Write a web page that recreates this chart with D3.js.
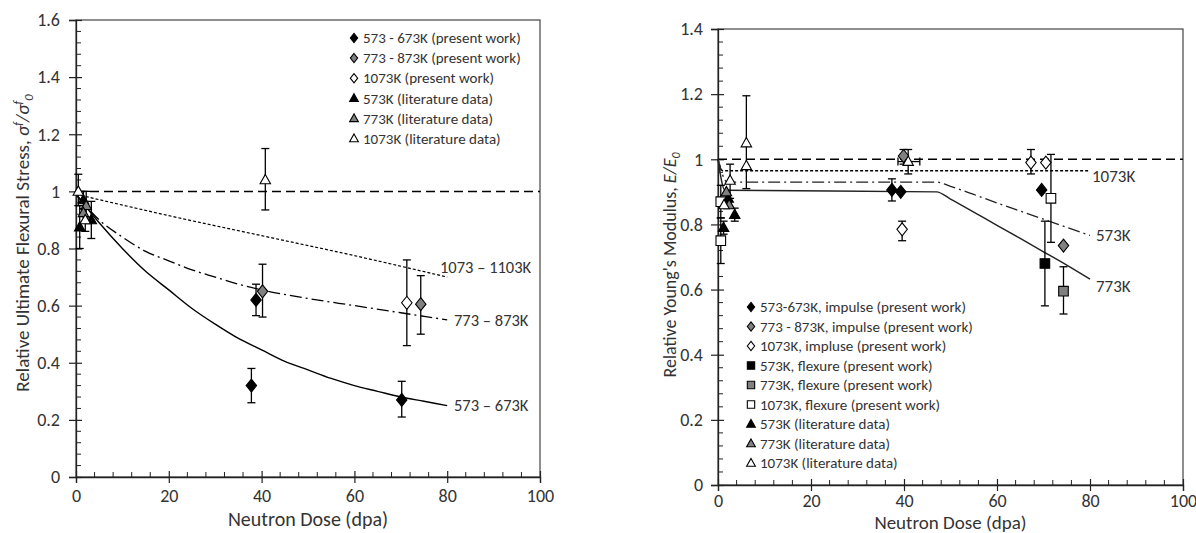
<!DOCTYPE html>
<html><head><meta charset="utf-8">
<script src="https://cdn.jsdelivr.net/npm/d3@7/dist/d3.min.js"></script>
<style>
body{margin:0;background:#fff;}
svg{display:block;font-family:Carlito,Lato,"Open Sans",sans-serif;}
</style></head><body>
<svg id="c" width="1196" height="533"></svg>
<script>
// ---------- tick values ----------
const xTicks = [0, 20, 40, 60, 80, 100];
const leftYTicks = [0, 0.2, 0.4, 0.6, 0.8, 1, 1.2, 1.4, 1.6];
const rightYTicks = [0, 0.2, 0.4, 0.6, 0.8, 1, 1.2, 1.4];

// ---------- LEFT PANEL: relative flexural stress ----------
// points: [dose, value, errLow, errHigh]
const L_pw573  = [[37.8,0.32,0.26,0.38],[38.8,0.62,0.565,0.675],[70.2,0.27,0.21,0.335]];
const L_pw773  = [[40.2,0.65,0.56,0.745],[74.3,0.605,0.50,0.705]];
const L_pw1073 = [[71.3,0.61,0.46,0.76]];
const L_lit573 = [[0.8,0.875,0.80,0.95],[3.3,0.90,0.835,0.965],[1.6,0.97,0.94,1.0]];
const L_lit773 = [[2.2,0.95,0.91,1.0],[1.6,0.925,null,null]];
const L_lit1073= [[0.5,1.0,0.95,1.06],[2.0,0.90,0.86,0.94],[40.8,1.04,0.935,1.15]];
// fitted trend curves
const L_ref    = [[0,1],[100,1]];
const L_c1073  = [[0,0.99],[20,0.915],[40,0.845],[60,0.775],[80,0.70]];
const L_c773   = [[0,0.99],[5,0.90],[10,0.84],[15,0.79],[20,0.757],[25,0.725],[30,0.70],[35,0.675],[40,0.655],[50,0.625],[60,0.60],[70,0.575],[80,0.55]];
const L_c573   = [[0,0.99],[5,0.89],[10,0.80],[15,0.72],[20,0.655],[25,0.59],[30,0.535],[35,0.485],[40,0.445],[45,0.405],[50,0.375],[55,0.345],[60,0.32],[65,0.30],[70,0.28],[75,0.265],[80,0.25]];
const L_curveLabels = ["1073 \u2013 1103K", "773 \u2013 873K", "573 \u2013 673K"];
const L_curveLabelY = [0.735, 0.55, 0.25];
const L_curveLabelX = [440, 454, 454];
const L_legend = ["573 - 673K (present work)","773 - 873K (present work)","1073K (present work)","573K (literature data)","773K (literature data)","1073K (literature data)"];

// ---------- RIGHT PANEL: relative Young's modulus ----------
const R_imp573  = [[37.4,0.906,0.872,0.94],[39.3,0.90,null,null],[69.6,0.906,null,null]];
const R_imp773  = [[39.9,1.01,0.985,1.03],[74.3,0.735,null,null]];
const R_imp1073 = [[39.6,0.785,0.75,0.81],[67.3,0.99,0.955,1.03],[70.5,0.99,null,null]];
const R_flex573 = [[70.3,0.68,0.55,0.81]];
const R_flex773 = [[74.3,0.595,0.525,0.67]];
const R_flex1073= [[71.6,0.88,0.745,1.015],[0.6,0.75,0.68,0.82],[0.6,0.87,0.82,0.92]];
const R_lit573  = [[1.2,0.79,0.77,0.81],[3.6,0.83,0.81,0.85],[2.2,0.88,null,null]];
const R_lit773  = [[2.4,0.86,null,null],[1.8,0.90,null,null]];
const R_lit1073 = [[6.1,1.05,0.91,1.195],[6.1,0.98,null,null],[2.6,0.935,0.88,0.985],[1.3,0.86,null,null],[40.9,0.993,0.955,1.03,38.7,43.4]];
const R_ref     = [[0,1],[100,1]];
const R_c1073   = [[0,1.0],[1,0.965],[80,0.965]];
const R_c573    = [[0,1.0],[2,0.93],[47,0.93],[50,0.917],[55,0.892],[60,0.866],[65,0.841],[70,0.816],[75,0.791],[80,0.766]];
const R_c773    = [[0,1.0],[1.5,0.905],[47,0.90],[50,0.878],[55,0.838],[60,0.797],[65,0.757],[70,0.716],[75,0.675],[80,0.632]];
const R_curveLabels = ["1073K", "573K", "773K"];
const R_curveLabelY = [0.949, 0.768, 0.611];
const R_curveLabelX = [1092, 1096, 1096];
const R_legend = ["573-673K, impulse (present work)","773 - 873K, impulse (present work)","1073K, impluse (present work)","573K, flexure (present work)","773K, flexure (present work)","1073K, flexure (present work)","573K (literature data)","773K (literature data)","1073K (literature data)"];

// ---------- drawing ----------
const svg = d3.select("#c");
const AX = "#222", TXT = "#333";
const FILL = {black:"#000", grey:"#808080", open:"#fff"};

function marker(g, shape, fill, x, y, s) {
  let path;
  if (shape === "diamond") path = `M${x},${y-s}L${x+s*0.8},${y}L${x},${y+s}L${x-s*0.8},${y}Z`;
  else if (shape === "triangle") path = `M${x},${y-s}L${x+s*0.95},${y+s*0.7}L${x-s*0.95},${y+s*0.7}Z`;
  else path = `M${x-s*0.8},${y-s*0.8}h${s*1.6}v${s*1.6}h${-s*1.6}Z`;
  g.append("path").attr("d", path).attr("fill", FILL[fill]).attr("stroke", "#000").attr("stroke-width", 1.1);
}

function panel(cfg) {
  const x = d3.scaleLinear().domain([0,100]).range(cfg.xr);
  const y = d3.scaleLinear().domain([0, cfg.ymax]).range(cfg.yr);
  const g = svg.append("g");
  const [x0, x1] = cfg.xr, [y0, y1] = cfg.yr;

  // frame
  g.append("rect").attr("x", x0).attr("y", y1).attr("width", x1-x0).attr("height", y0-y1)
    .attr("fill","none").attr("stroke","#444").attr("stroke-width",1.2);

  // minor ticks
  const yMinor = d3.range(0, cfg.ymax + 1e-9, 0.04).filter(v => Math.abs(v/0.2 - Math.round(v/0.2)) > 1e-6);
  g.selectAll(null).data(yMinor).join("line")
    .attr("x1", x0).attr("x2", x0+5).attr("y1", d=>y(d)).attr("y2", d=>y(d)).attr("stroke", AX).attr("stroke-width",1);
  const xMinor = d3.range(0, 100.01, 4).filter(v => v % 20 !== 0);
  g.selectAll(null).data(xMinor).join("line")
    .attr("x1", d=>x(d)).attr("x2", d=>x(d)).attr("y1", y0).attr("y2", y0-5).attr("stroke", AX).attr("stroke-width",1);

  // axes (major ticks crossing)
  const ya = g.append("g").attr("transform", `translate(${x0},0)`)
    .call(d3.axisLeft(y).tickValues(cfg.yTicks).tickSize(7).tickPadding(cfg.ypad).tickFormat(d3.format("~g")));
  ya.select(".domain").attr("stroke", AX).attr("stroke-width",1.3);
  ya.selectAll(".tick line").attr("x2", 6).attr("x1", -7).attr("stroke", AX).attr("stroke-width",1.2);
  ya.selectAll("text").attr("font-size", 18).attr("fill", TXT).attr("font-family", "Carlito,Lato,sans-serif");

  const xa = g.append("g").attr("transform", `translate(0,${y0})`)
    .call(d3.axisBottom(x).tickValues(xTicks).tickSize(6).tickPadding(cfg.xpad));
  xa.select(".domain").attr("stroke", AX).attr("stroke-width",1.3);
  xa.selectAll(".tick line").attr("y1", -6).attr("y2", 6).attr("stroke", AX).attr("stroke-width",1.2);
  xa.selectAll("text").attr("font-size", 18).attr("fill", TXT).attr("font-family", "Carlito,Lato,sans-serif");

  // titles
  g.append("text").attr("x", (x0+x1)/2).attr("y", cfg.xTitleY).attr("text-anchor","middle")
    .attr("font-size", cfg.xTitleFont).attr("fill", TXT).text("Neutron Dose (dpa)");
  const yt = g.append("text").attr("transform", `translate(${cfg.yTitleX},${cfg.yTitleCY}) rotate(-90)`)
    .attr("text-anchor","middle").attr("font-size", cfg.yTitleFont).attr("fill", TXT);
  cfg.yTitle(yt);

  // curves
  const line = d3.line().x(d=>x(d[0])).y(d=>y(d[1])).curve(d3.curveMonotoneX);
  cfg.curves.forEach(c => {
    g.append("path").attr("d", line(c.data)).attr("fill","none").attr("stroke", c.color || "#000")
      .attr("stroke-width", c.w).attr("stroke-dasharray", c.dash);
  });
  cfg.curveLabels.forEach((t,i) => {
    g.append("text").attr("x", cfg.labelX[i]).attr("y", y(cfg.curveLabelY[i])).attr("dy","0.35em")
      .attr("font-size", cfg.labelFont).attr("fill", TXT).text(t);
  });

  // series
  cfg.series.forEach(s => {
    s.data.forEach(d => {
      if (d[2] != null) {
        const cx = x(d[0]);
        g.append("line").attr("x1",cx).attr("x2",cx).attr("y1",y(d[2])).attr("y2",y(d[3])).attr("stroke","#000").attr("stroke-width",1.3);
        [d[2], d[3]].forEach(v => g.append("line").attr("x1",cx-4).attr("x2",cx+4).attr("y1",y(v)).attr("y2",y(v)).attr("stroke","#000").attr("stroke-width",1.3));
      }
      if (d[4] != null) {
        const cy = y(d[1]);
        g.append("line").attr("x1",x(d[4])).attr("x2",x(d[5])).attr("y1",cy).attr("y2",cy).attr("stroke","#000").attr("stroke-width",1.3);
        [d[4], d[5]].forEach(v => g.append("line").attr("x1",x(v)).attr("x2",x(v)).attr("y1",cy-4).attr("y2",cy+4).attr("stroke","#000").attr("stroke-width",1.3));
      }
    });
  });
  cfg.series.forEach(s => {
    s.data.forEach(d => marker(g, s.shape, s.fill, x(d[0]), y(d[1]), s.size));
  });

  // legend
  cfg.legend.forEach((t,i) => {
    const s = cfg.series[cfg.legendOrder[i]];
    const ly = cfg.legY[0] + i*cfg.legY[1];
    marker(g, s.shape, s.fill, cfg.legX, ly, 4.6);
    g.append("text").attr("x", cfg.legX + 9).attr("y", ly).attr("dy","0.35em")
      .attr("font-size", cfg.legFont).attr("fill", TXT).text(t);
  });
}

const DASH = "9,5", DOT = "3,2", DASHDOT = "12,4,2,4";

panel({
  xr:[76,540], yr:[477,20], ymax:1.6, yTicks:leftYTicks, ypad:9, xpad:6,
  xTitleY:526, xTitleFont:20, yTitleX:29, yTitleCY:243, yTitleFont:19,
  yTitle: t => {
    t.append("tspan").text("Relative Ultimate Flexural Stress, ");
    t.append("tspan").attr("font-style","italic").text("\u03c3");
    t.append("tspan").attr("font-style","italic").attr("font-size",12.5).attr("dy",-7).text("f");
    t.append("tspan").attr("font-style","italic").attr("dy",7).text("/\u03c3");
    t.append("tspan").attr("font-style","italic").attr("font-size",12.5).attr("dy",-7).text("f");
    t.append("tspan").attr("font-style","italic").attr("font-size",12.5).attr("dy",11).text("0");
  },
  curves:[
    {data:L_ref, w:1.5, dash:DASH},
    {data:L_c1073, w:1.2, dash:DOT},
    {data:L_c773, w:1.3, dash:DASHDOT},
    {data:L_c573, w:1.4, dash:null}
  ],
  curveLabels:L_curveLabels, curveLabelY:L_curveLabelY, labelX:L_curveLabelX, labelFont:16.5,
  series:[
    {data:L_pw573, shape:"diamond", fill:"black", size:6.5},
    {data:L_pw773, shape:"diamond", fill:"grey", size:6.5},
    {data:L_pw1073, shape:"diamond", fill:"open", size:6.5},
    {data:L_lit573, shape:"triangle", fill:"black", size:5.5},
    {data:L_lit773, shape:"triangle", fill:"grey", size:5.5},
    {data:L_lit1073, shape:"triangle", fill:"open", size:5.5}
  ],
  legend:L_legend, legendOrder:[0,1,2,3,4,5], legX:354, legY:[38,20.1], legFont:15
});

panel({
  xr:[718,1183], yr:[485,29], ymax:1.4, yTicks:rightYTicks, ypad:8, xpad:3,
  xTitleY:529, xTitleFont:19, yTitleX:676, yTitleCY:265, yTitleFont:18,
  yTitle: t => {
    t.append("tspan").text("Relative Young's Modulus, ");
    t.append("tspan").attr("font-style","italic").text("E/E");
    t.append("tspan").attr("font-style","italic").attr("font-size",12).attr("dy",4).text("0");
  },
  curves:[
    {data:R_ref, w:1.5, dash:DASH},
    {data:R_c1073, w:1.5, dash:DOT},
    {data:R_c573, w:1.3, dash:DASHDOT, color:"#222"},
    {data:R_c773, w:1.4, dash:null, color:"#222"}
  ],
  curveLabels:R_curveLabels, curveLabelY:R_curveLabelY, labelX:R_curveLabelX, labelFont:17,
  series:[
    {data:R_imp573, shape:"diamond", fill:"black", size:6.5},
    {data:R_imp773, shape:"diamond", fill:"grey", size:6.5},
    {data:R_imp1073, shape:"diamond", fill:"open", size:6.5},
    {data:R_flex573, shape:"square", fill:"black", size:6},
    {data:R_flex773, shape:"square", fill:"grey", size:6},
    {data:R_flex1073, shape:"square", fill:"open", size:6},
    {data:R_lit573, shape:"triangle", fill:"black", size:5.5},
    {data:R_lit773, shape:"triangle", fill:"grey", size:5.5},
    {data:R_lit1073, shape:"triangle", fill:"open", size:5.5}
  ],
  legend:R_legend, legendOrder:[0,1,2,3,4,5,6,7,8], legX:751, legY:[307,19.5], legFont:15
});
</script>
</body></html>
